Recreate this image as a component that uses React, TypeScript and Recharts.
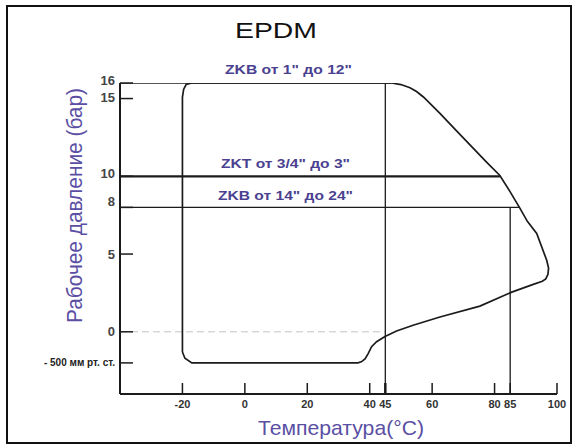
import { Line, LineChart, XAxis, YAxis } from "recharts";

// temperature (°C) / pressure (bar) pairs, in drawing order, for the EPDM outline
const OUTLINE_T = [
  -20, -20, -19.6, -18.8, -17, 47, 50, 52.9, 55, 57.2, 62.5, 67.9, 73.2, 77.5, 81.7, 85,
  88.1, 90.5, 93.5, 96.7, 97.3, 97.1, 96.4, 95.3, 92.4, 85.5, 75.3, 62.5, 53.9, 48.6, 44.9,
  42.2, 40.6, 39.5, 38.5, 37.3, 36.2, -17, -19.2, -20,
];
const OUTLINE_P = [
  -1.3, 15.1, 15.6, 15.9, 16, 16, 15.9, 15.7, 15.45, 15.1, 14.05, 12.9, 11.8, 10.9, 10.05, 9.0,
  7.95, 7.1, 6.33, 4.6, 4.1, 3.7, 3.4, 3.25, 3.05, 2.55, 1.65, 0.95, 0.42, 0.05, -0.3,
  -0.64, -0.96, -1.4, -1.75, -1.93, -2, -2, -1.7, -1.3,
];

// straight limit lines: [t1, p1, t2, p2]
const TOP_LINE = [-40, 16, 47, 16];
const ZKT_LINE = [-40, 10, 81.7, 10];
const ZKB_LINE = [-40, 8, 88.1, 8];
const ZERO_LINE = [-40, 0, 45, 0];
const T45_LINE = [45, -4, 45, 16];
const T85_LINE = [85, -4, 85, 8];

const X_TICKS = [-20, 0, 20, 40, 45, 60, 80, 85, 100];
const Y_TICKS = [16, 15, 10, 8, 5, 0, -2];
const VACUUM_LABEL = "- 500 мм рт. ст.";

const TITLE = "EPDM";
const LABEL_ZKB_SMALL = 'ZKB от 1" до 12"';
const LABEL_ZKT = 'ZKT от 3/4" до 3"';
const LABEL_ZKB_LARGE = 'ZKB от 14" до 24"';
const Y_TITLE = "Рабочее давление (бар)";
const X_TITLE = "Температура(°C)";

const FONT = "'Liberation Sans', Arial, sans-serif";
const INK = "#1b1b1b";
const PURPLE = "#5a4fa3";
const PURPLE_DARK = "#4a4190";

const outline = OUTLINE_T.map((t, i) => ({ x: t, y: OUTLINE_P[i] }));
const seg = (s: number[]) => [
  { x: s[0], y: s[1] },
  { x: s[2], y: s[3] },
];

// small nudges so crowded labels sit like the original
const Y_LABEL_DY: Record<number, number> = { 16: -3, 15: -1, 10: -3, 8: -6 };

function XTick({ x, y, payload }: any) {
  const v = payload.value;
  return (
    <g>
      <line x1={x} y1={y} x2={x} y2={y - 11} stroke={INK} strokeWidth={v === 45 ? 2.5 : 1.5} />
      <text x={x} y={y + 14} textAnchor="middle" fontSize={11} fontWeight="bold" fill="#333" fontFamily={FONT}>
        {v}
      </text>
    </g>
  );
}

function YTick({ x, y, payload }: any) {
  const v = payload.value;
  const vacuum = v === -2;
  return (
    <g>
      <line x1={x} y1={y} x2={x + 13} y2={y} stroke={INK} strokeWidth={1.5} />
      <text
        x={x - 5}
        y={y + (Y_LABEL_DY[v] ?? 0)}
        dy="0.35em"
        textAnchor="end"
        fontSize={vacuum ? 10 : 13}
        fontWeight="bold"
        fill={vacuum ? "#222" : "#444"}
        fontFamily={FONT}
      >
        {vacuum ? VACUUM_LABEL : v}
      </text>
    </g>
  );
}

function seriesLine(key: string, data: { x: number; y: number }[], extra: Record<string, any> = {}) {
  return (
    <Line
      key={key}
      data={data}
      dataKey="y"
      type="linear"
      stroke={INK}
      strokeWidth={1.3}
      dot={false}
      activeDot={false}
      isAnimationActive={false}
      {...extra}
    />
  );
}

export default function App() {
  return (
    <div style={{ position: "absolute", left: 0, top: 0, width: 573, height: 445, background: "#fff" }}>
      <div
        style={{
          position: "absolute",
          left: 6,
          top: 5,
          width: 566,
          height: 439,
          boxSizing: "border-box",
          border: "2px solid #111",
        }}
      />
      <div style={{ position: "absolute", left: 0, top: 0 }}>
        <LineChart width={573} height={445} margin={{ top: 83, right: 16, left: 0, bottom: 0 }}>
          <XAxis
            type="number"
            dataKey="x"
            domain={[-40, 100]}
            ticks={X_TICKS}
            interval={0}
            allowDataOverflow
            height={51}
            tickSize={0}
            tickMargin={0}
            tickLine={false}
            axisLine={{ stroke: INK, strokeWidth: 2 }}
            tick={<XTick />}
          />
          <YAxis
            type="number"
            domain={[-4, 16]}
            ticks={Y_TICKS}
            interval={0}
            allowDataOverflow
            width={120}
            tickSize={0}
            tickMargin={0}
            tickLine={false}
            axisLine={{ stroke: INK, strokeWidth: 2 }}
            tick={<YTick />}
          />
          {seriesLine("zero", seg(ZERO_LINE), { stroke: "#c4c4c4", strokeWidth: 1, strokeDasharray: "7 4" })}
          {seriesLine("t45", seg(T45_LINE), { strokeWidth: 1.3 })}
          {seriesLine("t85", seg(T85_LINE), { strokeWidth: 1.3 })}
          {seriesLine("top", seg(TOP_LINE), { strokeWidth: 1.3 })}
          {seriesLine("zkt", seg(ZKT_LINE), { strokeWidth: 2.2 })}
          {seriesLine("zkb", seg(ZKB_LINE), { strokeWidth: 1.3 })}
          {seriesLine("outline", outline, { strokeWidth: 1.7 })}
        </LineChart>
      </div>
      <svg width={573} height={445} style={{ position: "absolute", left: 0, top: 0, pointerEvents: "none" }}>
        <text x={235} y={38} fontSize={22} fill="#111" fontFamily={FONT} textLength={82} lengthAdjust="spacingAndGlyphs">
          {TITLE}
        </text>
        <text x={225} y={74} fontSize={13} fontWeight="bold" fill={PURPLE_DARK} fontFamily={FONT} textLength={127} lengthAdjust="spacingAndGlyphs">
          {LABEL_ZKB_SMALL}
        </text>
        <text x={221} y={168} fontSize={13} fontWeight="bold" fill={PURPLE_DARK} fontFamily={FONT} textLength={129} lengthAdjust="spacingAndGlyphs">
          {LABEL_ZKT}
        </text>
        <text x={218} y={200} fontSize={13} fontWeight="bold" fill={PURPLE_DARK} fontFamily={FONT} textLength={135} lengthAdjust="spacingAndGlyphs">
          {LABEL_ZKB_LARGE}
        </text>
        <text
          transform="translate(82,323) rotate(-90)"
          x={0}
          y={0}
          fontSize={22}
          fill={PURPLE}
          fontFamily={FONT}
          textLength={235}
          lengthAdjust="spacingAndGlyphs"
        >
          {Y_TITLE}
        </text>
        <text x={258} y={435} fontSize={21} fill={PURPLE} fontFamily={FONT} textLength={166} lengthAdjust="spacingAndGlyphs">
          {X_TITLE}
        </text>
      </svg>
    </div>
  );
}
